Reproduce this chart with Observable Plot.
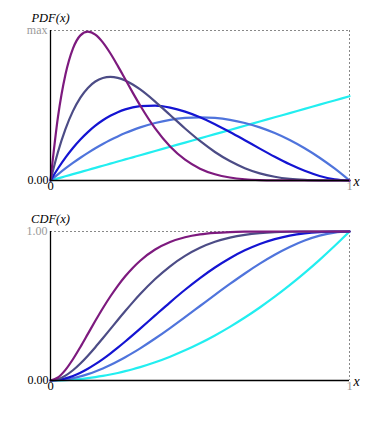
<!DOCTYPE html>
<html>
<head>
<meta charset="utf-8">
<script src="https://cdn.jsdelivr.net/npm/d3@7"></script>
<script src="https://cdn.jsdelivr.net/npm/@observablehq/plot@0.6"></script>
<style>
  html, body { margin: 0; padding: 0; background: #fff; }
  #chart svg { display: block; }
  #chart svg, #chart svg text { font-family: "Liberation Serif", "Times New Roman", "DejaVu Serif", serif !important; }
</style>
</head>
<body>
<div id="chart"></div>
<script>
// x sample positions
const xs = [0, 0.025, 0.05, 0.075, 0.1, 0.125, 0.15, 0.175, 0.2, 0.225, 0.25, 0.275, 0.3, 0.35, 0.4, 0.45, 0.5, 0.55, 0.6, 0.65, 0.7, 0.75, 0.8, 0.85, 0.9, 0.95, 1];

// PDF curves
const pdfCyan   = [0,0.05,0.1,0.15,0.2,0.25,0.3,0.35,0.4,0.45,0.5,0.55,0.6,0.7,0.8,0.9,1,1.1,1.2,1.3,1.4,1.5,1.6,1.7,1.8,1.9,2];
const pdfCorn   = [0,0.146,0.285,0.416,0.54,0.656,0.765,0.866,0.96,1.046,1.125,1.196,1.26,1.365,1.44,1.485,1.5,1.485,1.44,1.365,1.26,1.125,0.96,0.765,0.54,0.285,0];
const pdfBlue   = [0,0.285,0.542,0.770,0.972,1.148,1.301,1.429,1.536,1.622,1.688,1.735,1.764,1.775,1.728,1.634,1.5,1.337,1.152,0.956,0.756,0.563,0.384,0.230,0.108,0.029,0];
const pdfSlate  = [0,0.678,1.222,1.647,1.968,2.198,2.349,2.432,2.458,2.435,2.373,2.279,2.161,1.874,1.555,1.235,0.938,0.677,0.461,0.293,0.170,0.088,0.038,0.013,0.003,0.0002,0];
const pdfPurple = [0,1.508,2.514,3.129,3.444,3.534,3.462,3.278,3.020,2.720,2.403,2.085,1.779,1.235,0.806,0.493,0.281,0.148,0.071,0.030,0.011,0.003,0.001,0.0001,0,0,0];

// CDF curves
const cdfCyan   = [0,0.0006,0.0025,0.0056,0.01,0.0156,0.0225,0.0306,0.04,0.0506,0.0625,0.0756,0.09,0.1225,0.16,0.2025,0.25,0.3025,0.36,0.4225,0.49,0.5625,0.64,0.7225,0.81,0.9025,1];
const cdfCorn   = [0,0.0018,0.0073,0.0160,0.028,0.0430,0.0608,0.0812,0.104,0.1291,0.1563,0.1853,0.216,0.2818,0.352,0.4253,0.5,0.5748,0.648,0.7183,0.784,0.8438,0.896,0.9393,0.972,0.9928,1];
const cdfBlue   = [0,0.0036,0.0140,0.0305,0.0523,0.0789,0.1095,0.1437,0.1808,0.2203,0.2617,0.3045,0.3483,0.4370,0.5248,0.6090,0.6875,0.7585,0.8208,0.8735,0.9163,0.9492,0.9728,0.9880,0.9963,0.9995,1];
const cdfSlate  = [0,0.0088,0.0328,0.0689,0.1143,0.1665,0.2235,0.2834,0.3446,0.4059,0.4661,0.5243,0.5798,0.6809,0.7667,0.8364,0.8906,0.9308,0.9590,0.9777,0.9891,0.9954,0.9984,0.9996,0.9999,1,1];
const cdfPurple = [0,0.0200,0.0712,0.1425,0.2252,0.3128,0.4005,0.4850,0.5638,0.6356,0.6997,0.7557,0.8040,0.8789,0.9295,0.9615,0.9805,0.9909,0.9962,0.9986,0.9996,0.9999,1,1,1,1,1];

const seriesNames = ["cyan", "cornflower", "blue", "slate", "purple"];
const seriesColors = ["#22eef0", "#4f74dc", "#1414d2", "#4c4c86", "#7d1a7e"];

const pdfMax = 3.56;   // "max" tick
const cdfMax = 1;      // "1.00" tick

const pdfTicks = {bottom: "0.00", top: "max", title: "PDF(x)"};
const cdfTicks = {bottom: "0.00", top: "1.00", title: "CDF(x)"};
const xTickLabels = ["0", "1"];

const FONT = "'Liberation Serif', 'Times New Roman', serif";

function rowsFor(arrays) {
  return arrays.map((ys, i) => xs.map((x, j) => ({x, y: ys[j], s: seriesNames[i]})));
}

function panel(arrays, ymax, labels, mTop, mBottom, height) {
  const series = rowsFor(arrays);
  const gray = "#9a9a9a";
  const marks = [
    Plot.ruleY([ymax], {stroke: "#888", strokeDasharray: "2,2", strokeWidth: 1}),
    Plot.ruleX([1], {stroke: "#888", strokeDasharray: "2,2", strokeWidth: 1}),
    ...series.map((rows, i) => Plot.line(rows, {x: "x", y: "y", stroke: seriesColors[i], strokeWidth: 2.2, curve: "monotone-x"})),
    Plot.ruleX([0], {stroke: "#000", strokeWidth: 1.3}),
    Plot.ruleY([0], {stroke: "#000", strokeWidth: 1.3}),
    Plot.axisY([0], {tickSize: 0, tickPadding: 2, tickFormat: () => labels.bottom, label: null, color: "#000", fontSize: 12, fontFamily: FONT}),
    Plot.axisY([ymax], {tickSize: 0, tickPadding: 3, tickFormat: () => labels.top, label: null, color: gray, fontSize: 12, fontFamily: FONT}),
    Plot.axisX([0], {tickSize: 0, tickPadding: 1, tickFormat: () => xTickLabels[0], label: null, color: "#000", fontSize: 12.5, fontFamily: FONT}),
    Plot.axisX([1], {tickSize: 0, tickPadding: 1, tickFormat: () => xTickLabels[1], label: null, color: gray, fontSize: 12.5, fontFamily: FONT}),
    Plot.text([labels.title], {x: () => 0, y: () => ymax, text: d => d, dy: -12.5, fontStyle: "italic", fontSize: 12.5, fontFamily: FONT, fill: "#000"}),
    Plot.text(["x"], {x: () => 1, y: () => 0, text: d => d, dx: 4, dy: 1, textAnchor: "start", fontStyle: "italic", fontSize: 14, fontFamily: FONT, fill: "#000"})
  ];
  return Plot.plot({
    width: 380,
    height,
    marginLeft: 50,
    marginRight: 31,
    marginTop: mTop,
    marginBottom: mBottom,
    style: {fontFamily: FONT, fontSize: "12px", background: "#fff", overflow: "visible"},
    x: {domain: [0, 1]},
    y: {domain: [0, ymax]},
    marks
  });
}

const pdfChart = panel([pdfCyan, pdfCorn, pdfBlue, pdfSlate, pdfPurple], pdfMax, pdfTicks, 30, 20, 200);
const cdfChart = panel([cdfCyan, cdfCorn, cdfBlue, cdfSlate, cdfPurple], cdfMax, cdfTicks, 31, 20, 200);
const el = document.getElementById("chart");
el.appendChild(pdfChart);
el.appendChild(cdfChart);
</script>
</body>
</html>
